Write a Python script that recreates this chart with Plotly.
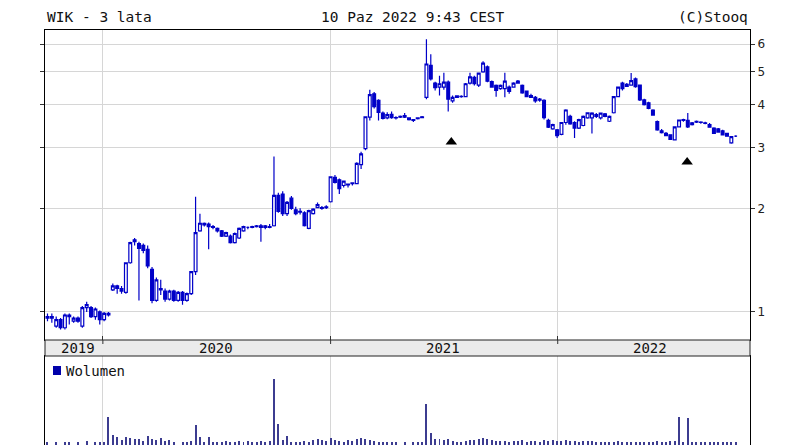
import datetime as dt
import plotly.graph_objects as go

# ---------------- data ----------------
start_date = dt.date(2019, 10, 4)  # weekly candles (Fridays)

opens = [0.96,0.97,0.91,0.95,0.90,0.98,0.94,0.96,0.91,1.03,1.03,0.97,1.00,0.95,0.99,
         1.16,1.19,1.17,1.14,1.39,1.62,1.58,1.56,1.52,1.33,1.08,1.17,1.15,1.09,1.15,
         1.08,1.14,1.08,1.13,1.31,1.72,1.81,1.80,1.77,1.75,1.72,1.66,1.66,1.59,1.64,
         1.72,1.76,1.76,1.77,1.78,1.76,1.77,1.78,2.18,2.20,1.93,2.14,1.98,1.96,1.94,
         1.75,1.93,2.01,2.00,2.01,2.09,2.46,2.42,2.33,2.34,2.36,2.36,2.68,2.98,3.68,
         4.30,4.12,3.78,3.66,3.75,3.67,3.68,3.72,3.66,3.62,3.64,3.67,4.20,5.20,4.62,
         4.50,4.50,4.65,4.10,4.20,4.22,4.22,4.62,4.80,4.56,4.98,5.15,4.67,4.55,4.45,
         4.45,4.50,4.50,4.62,4.55,4.38,4.25,4.20,4.12,4.12,3.60,3.40,3.38,3.28,3.55,
         3.70,3.55,3.42,3.48,3.66,3.66,3.74,3.66,3.76,3.58,3.79,4.22,4.62,4.52,4.56,
         4.75,4.56,4.13,4.05,3.86,3.57,3.36,3.30,3.27,3.16,3.45,3.60,3.60,3.50,3.56,
         3.55,3.54,3.50,3.42,3.40,3.36,3.30,3.10,3.24]
highs = [0.99,0.99,0.97,0.96,0.99,0.99,0.97,0.97,1.04,1.07,1.04,1.03,1.01,1.00,1.00,
         1.21,1.20,1.19,1.39,1.60,1.64,1.60,1.58,1.56,1.35,1.26,1.24,1.17,1.16,1.16,
         1.15,1.15,1.14,1.31,2.16,1.93,1.82,1.82,1.79,1.76,1.73,1.71,1.68,1.70,1.76,
         1.78,1.77,1.78,1.79,1.80,1.79,1.80,2.83,2.22,2.24,2.10,2.17,2.02,2.00,1.96,
         1.98,2.00,2.08,2.03,2.04,2.48,2.50,2.44,2.41,2.36,2.38,2.72,2.92,3.70,4.42,
         4.35,4.15,3.82,3.80,3.82,3.70,3.72,3.78,3.68,3.63,3.67,3.71,6.20,5.60,4.66,
         4.85,4.95,4.70,4.25,4.26,4.26,4.62,4.95,4.85,4.96,5.35,5.20,4.70,4.58,4.58,
         4.95,4.55,4.65,4.72,4.58,4.40,4.30,4.24,4.18,4.15,3.64,3.52,3.40,3.56,3.88,
         3.74,3.58,3.64,3.72,3.80,3.80,3.78,3.79,3.78,3.72,4.24,4.52,4.66,4.62,4.94,
         4.80,4.58,4.16,4.08,3.88,3.60,3.40,3.33,3.28,3.46,3.62,3.64,3.78,3.56,3.60,
         3.58,3.57,3.54,3.44,3.42,3.38,3.31,3.24,3.26]
lows  = [0.94,0.93,0.90,0.89,0.89,0.92,0.93,0.93,0.90,1.00,0.96,0.95,0.92,0.94,0.97,
         1.15,1.13,1.13,1.13,1.38,1.56,1.08,1.48,1.34,1.06,1.07,1.12,1.07,1.08,1.07,
         1.07,1.05,1.07,1.12,1.28,1.71,1.77,1.52,1.74,1.70,1.65,1.65,1.58,1.58,1.63,
         1.71,1.74,1.75,1.76,1.60,1.74,1.75,1.77,1.94,1.90,1.90,1.98,1.91,1.92,1.77,
         1.74,1.92,2.00,1.98,1.99,2.08,2.36,2.20,2.30,2.30,2.33,2.35,2.60,2.95,3.60,
         3.90,3.60,3.62,3.63,3.64,3.62,3.66,3.66,3.60,3.56,3.62,3.66,4.15,4.70,4.40,
         4.25,4.42,3.82,4.05,4.18,4.19,4.20,4.58,4.55,4.50,4.95,4.65,4.48,4.22,4.42,
         4.20,4.30,4.48,4.60,4.30,4.20,4.18,4.05,4.08,3.62,3.42,3.38,3.20,3.26,3.50,
         3.50,3.20,3.40,3.46,3.64,3.30,3.66,3.62,3.68,3.56,3.77,4.20,4.40,4.50,4.54,
         4.48,4.10,3.98,3.88,3.72,3.36,3.30,3.24,3.16,3.15,3.44,3.57,3.42,3.48,3.54,
         3.52,3.51,3.43,3.29,3.32,3.26,3.23,3.08,3.22]
closes = [0.97,0.96,0.95,0.90,0.98,0.97,0.96,0.94,1.03,1.05,0.97,1.02,0.95,0.99,0.98,
          1.19,1.17,1.15,1.39,1.59,1.60,1.53,1.51,1.36,1.08,1.24,1.16,1.09,1.15,1.08,
          1.14,1.08,1.13,1.31,1.70,1.81,1.79,1.77,1.76,1.72,1.66,1.70,1.59,1.69,1.75,
          1.77,1.76,1.77,1.78,1.76,1.78,1.76,2.18,1.96,1.93,2.08,2.00,1.93,1.95,1.78,
          1.97,1.99,2.05,2.01,2.02,2.47,2.38,2.28,2.40,2.35,2.37,2.70,2.88,3.69,4.28,
          3.95,3.80,3.65,3.74,3.67,3.66,3.70,3.68,3.62,3.60,3.66,3.69,5.25,4.75,4.48,
          4.60,4.65,4.15,4.20,4.24,4.23,4.60,4.82,4.60,4.94,5.28,4.68,4.50,4.40,4.55,
          4.68,4.37,4.62,4.68,4.33,4.22,4.20,4.10,4.15,3.67,3.44,3.50,3.25,3.55,3.86,
          3.52,3.42,3.62,3.70,3.79,3.78,3.70,3.78,3.70,3.70,4.22,4.50,4.45,4.58,4.70,
          4.51,4.13,4.00,3.90,3.73,3.38,3.32,3.25,3.17,3.45,3.61,3.62,3.45,3.54,3.58,
          3.56,3.53,3.44,3.30,3.33,3.27,3.24,3.23,3.24]
volume = [30,0,30,0,30,30,0,30,0,40,0,30,30,30,280,100,80,50,80,70,60,60,40,90,60,
          50,70,40,50,30,0,30,30,40,200,80,30,80,30,30,30,40,30,30,40,30,40,30,30,40,
          30,40,650,210,50,90,30,30,30,40,30,50,60,50,40,70,50,40,30,50,40,60,70,60,50,
          40,30,30,30,30,30,0,30,0,30,30,30,410,120,60,60,50,60,40,30,30,40,50,50,60,
          70,60,50,40,40,40,30,40,40,50,30,40,40,30,50,40,50,40,40,50,40,40,30,40,40,
          40,30,30,30,30,30,40,30,30,30,30,30,30,30,30,40,30,30,40,40,280,30,270,30,30,
          30,30,30,30,30,30,30,30,30]

event_dates = ["2021-07-14", "2022-07-28"]
event_prices = [3.115, 2.727]

year_tick_dates = ["2020-01-01", "2021-01-01", "2022-01-01"]
year_labels = ["2019", "2020", "2021", "2022"]
year_label_dates = ["2019-11-22", "2020-07-01", "2021-07-01", "2022-05-30"]
price_ticks = [1, 2, 3, 4, 5, 6]

dates = [(start_date + dt.timedelta(days=7 * i)).isoformat() for i in range(len(opens))]

# ---------------- figure ----------------
BLUE = "#0000c8"
OFF = 8                      # page body margin of the browser
W, H = 798 - OFF, 445 - OFF  # figure size as placed on the page
ML, MR, MT, MB = 45 - OFF, 48, 30 - OFF, 0
ph = H - MT - MB
pw = W - ML - MR

def py(y_px):  # y pixel in the screenshot -> paper fraction
    return (445 - MB - y_px) / ph

def px(x_px):  # x pixel in the screenshot -> paper fraction
    return (x_px - 45) / pw

price_dom = [py(340), 1.0]
strip_lo, strip_hi = py(356), py(340)
vol_dom = [0.0, py(356)]

x_range = ["2019-09-30", "2022-11-06"]

fig = go.Figure()
fig.add_trace(go.Candlestick(
    x=dates, open=opens, high=highs, low=lows, close=closes,
    increasing=dict(line=dict(color=BLUE, width=1.2), fillcolor="white"),
    decreasing=dict(line=dict(color=BLUE, width=1.2), fillcolor=BLUE),
    whiskerwidth=0, showlegend=False, xaxis="x", yaxis="y",
))
fig.add_trace(go.Scatter(
    x=event_dates, y=event_prices, mode="markers",
    marker=dict(symbol="triangle-up", size=10, color="black"),
    showlegend=False, xaxis="x", yaxis="y",
))
fig.add_trace(go.Bar(
    x=dates, y=volume, width=1.6 * 86400000, marker=dict(color="#3c3c90", line=dict(width=0)),
    showlegend=False, xaxis="x2", yaxis="y2",
))

common_x = dict(
    type="date", range=x_range, tickvals=year_tick_dates, showticklabels=False,
    showgrid=True, gridcolor="#d6d6d6", gridwidth=1, zeroline=False,
    showline=True, linecolor="black", linewidth=1, mirror=True,
    ticks="inside", ticklen=4, tickcolor="#333",
    rangeslider=dict(visible=False), fixedrange=True,
)
fig.update_layout(
    width=W, height=H, margin=dict(l=ML, r=MR, t=MT, b=MB, autoexpand=False),
    paper_bgcolor="white", plot_bgcolor="white",
    boxgap=0.08,
    xaxis=dict(common_x, domain=[0, 1], anchor="y"),
    yaxis=dict(
        type="log", domain=price_dom, anchor="x", side="right",
        range=[-0.0814, 0.8189], tickvals=price_ticks, ticktext=[str(t) for t in price_ticks],
        showgrid=True, gridcolor="#d6d6d6", gridwidth=1, zeroline=False,
        showline=True, linecolor="black", linewidth=1, mirror="ticks",
        ticks="outside", ticklen=4, tickcolor="#333",
        tickfont=dict(family="DejaVu Sans", size=12, color="#222"),
    ),
    xaxis2=dict(common_x, domain=[0, 1], anchor="y2", matches="x", ticks=""),
    yaxis2=dict(domain=vol_dom, anchor="x2", range=[0, 880], showgrid=False,
                showticklabels=False, zeroline=False, showline=True, linecolor="black",
                linewidth=1, mirror=True, ticks="", fixedrange=True),
    bargap=0,
    showlegend=False,
)

mono = "DejaVu Sans Mono"
shapes = [
    dict(type="rect", xref="paper", yref="paper", x0=0, x1=1, y0=strip_lo, y1=strip_hi,
         fillcolor="#ebebeb", line=dict(color="#222", width=1), layer="above"),
    dict(type="line", xref="paper", yref="paper", x0=px(0), x1=px(798),
         y0=py(1), y1=py(1), line=dict(color="#dcdcdc", width=1)),
    dict(type="rect", xref="paper", yref="paper", x0=px(53), x1=px(61),
         y0=py(375), y1=py(366), fillcolor="#0000aa", line=dict(width=0)),
]
for d in year_tick_dates:
    shapes.append(dict(type="line", xref="x", yref="paper", x0=d, x1=d, y0=strip_hi, y1=strip_hi - 4 / ph,
                       line=dict(color="#333", width=1)))
font_hdr = dict(family=mono, size=14.5, color="#111")
annotations = [
    dict(text="WIK - 3 lata", xref="paper", yref="paper", x=0, y=py(17), xanchor="left",
         yanchor="middle", showarrow=False, font=font_hdr),
    dict(text="10 Paz 2022 9:43 CEST", xref="paper", yref="paper", x=px(413),
         y=py(17), xanchor="center", yanchor="middle", showarrow=False, font=font_hdr),
    dict(text="(C)Stooq", xref="paper", yref="paper", x=1, y=py(17), xanchor="right",
         yanchor="middle", showarrow=False, font=font_hdr),
    dict(text="Wolumen", xref="paper", yref="paper", x=px(64), y=py(371),
         xanchor="left", yanchor="middle", showarrow=False,
         font=dict(family=mono, size=14, color="#111")),
]
for lab, d in zip(year_labels, year_label_dates):
    annotations.append(dict(text=lab, xref="x", yref="paper", x=d, y=(strip_lo + strip_hi) / 2,
                            xanchor="center", yanchor="middle", showarrow=False,
                            font=dict(family=mono, size=14, color="#111")))
fig.update_layout(shapes=shapes, annotations=annotations)

fig.write_html("out.html")
